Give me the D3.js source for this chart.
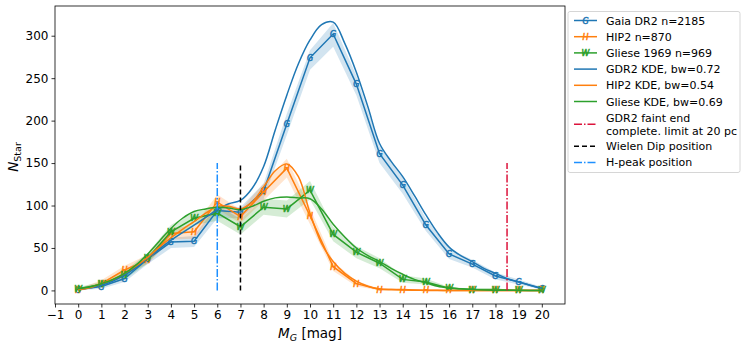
<!DOCTYPE html>
<html><head><meta charset="utf-8">
<script src="https://cdn.jsdelivr.net/npm/d3@7/dist/d3.min.js"></script>
<style>body{margin:0;background:#fff;} svg{display:block;font-family:"DejaVu Sans",sans-serif;}</style>
</head><body><svg id="c" width="747" height="349"></svg>
<script>
// ---- data ----
const mags = d3.range(0, 21);
const gaiaN  = [1,4.5,14,37,57,58,94,92,117,196,274,302,243,161,124,77,43,31,17,10,2];
const gaiaLo = [0,2,10,31,50,51,85,85,108,183,260,287,230,150,114,70,37,27,13,7,1];
const gaiaHi = [3,8,18,42,62,64,101,98,126,208,283,315,253,170,133,85,49,36,21,13,4];
const hipN   = [0,8,24,36,67,69,104,87,116,144,88,28,8,1,1,0,0,0,0,0,0];
const hipLo  = [0,5,19,31,60,61,96,79,106,133,78,23,5,0,0,0,0,0,0,0,0];
const hipHi  = [2,12,29,42,74,76,113,95,126,155,97,34,11,2,1,1,1,1,1,1,1];
const glN    = [2,7,18,38,69,85,91,75,98,96,118,66,45,32,13,10,2.5,1,1,0,0];
const glLo   = [0,4,13,32,61,77,82,66,89,86,107,58,38,26,9,7,1,0,0,0,0];
const glHi   = [4,10,23,44,77,93,100,84,108,106,129,75,52,38,18,14,4,2,2,1,1];
const kdeX   = d3.range(0, 20.01, 0.5);
const gaiaKde = [1,3,6,11,18,27,38,49,59,68,77,86,95,102,106,120,146,189,230,267,295,313,316,291,257,216,173,152,134,112,89,68,51,41,34,26,20,14,10,6,2.5];
const hipKde  = [1,3,8,13,20,29,39,51,62,72,81,91,99,99,96,104,122,141,149,134,91,55,34,20,11,5,2,1,0.5,0.3,0.2,0.1,0,0,0,0,0,0,0,0,0];
const glKde   = [2,4,8,13,20,30,43,58,73,85,93,96,98,97,95,99,105,109,110,109,108,96,78,63,50,41,34,26,19,13,9,5,3,2,1,0.5,0.3,0.2,0.1,0,0];
const xTicks = d3.range(-1, 21);
const yTicks = [0,50,100,150,200,250,300];
const vlines = [
  {x:6, y0:0, y1:150, color:"#1e90ff", dash:"8,2,1.5,2", label:"H-peak position"},
  {x:7, y0:0, y1:150, color:"#000000", dash:"5,3", label:"Wielen Dip position"},
  {x:18.5, y0:0, y1:150, color:"#dc143c", dash:"8,2,1.5,2", label:"GDR2 faint end|complete. limit at 20 pc"}
];

// ---- layout ----
const svg = d3.select("#c");
const L = 55, R = 565, T = 6, B = 304;
const x = d3.scaleLinear().domain([-1, 21]).range([L, R]);
const y = d3.scaleLinear().domain([-16, 335]).range([B, T]);
const C = {b:"#1f77b4", o:"#ff7f0e", g:"#2ca02c"};

const series = [
  {n:gaiaN, lo:gaiaLo, hi:gaiaHi, kde:gaiaKde, c:C.b, m:"G"},
  {n:hipN, lo:hipLo, hi:hipHi, kde:hipKde, c:C.o, m:"H"},
  {n:glN, lo:glLo, hi:glHi, kde:glKde, c:C.g, m:"W"}
];

const g = svg.append("g");
// bands
series.forEach(s => {
  const area = d3.area().x((d,i)=>x(mags[i])).y0((d,i)=>y(s.lo[i])).y1((d,i)=>y(s.hi[i]));
  g.append("path").attr("d", area(mags)).attr("fill", s.c).attr("fill-opacity", 0.2).attr("stroke","none");
});
// data lines + markers
series.forEach(s => {
  const line = d3.line().x((d,i)=>x(mags[i])).y(d=>y(d));
  g.append("path").attr("d", line(s.n)).attr("fill","none").attr("stroke", s.c).attr("stroke-width",1.5);
  g.selectAll(null).data(s.n).enter().append("text")
    .attr("x",(d,i)=>x(mags[i])).attr("y",d=>y(d)+3)
    .attr("text-anchor","middle").attr("font-size",8).attr("font-style","italic")
    .attr("fill", s.c).attr("stroke", s.c).attr("stroke-width",0.5).text(s.m);
});
// KDE curves
series.forEach(s => {
  const line = d3.line().x((d,i)=>x(kdeX[i])).y(d=>y(d)).curve(d3.curveCatmullRom);
  g.append("path").attr("d", line(s.kde)).attr("fill","none").attr("stroke", s.c).attr("stroke-width",1.5);
});
// vertical lines
vlines.forEach(v => {
  g.append("line").attr("x1",x(v.x)).attr("x2",x(v.x)).attr("y1",y(v.y0)).attr("y2",y(v.y1))
   .attr("stroke",v.color).attr("stroke-width",1.5).attr("stroke-dasharray",v.dash);
});

// axes
const xa = svg.append("g").attr("transform",`translate(0,${B})`)
  .call(d3.axisBottom(x).tickValues(xTicks).tickFormat(d=>d<0?"\u2212"+(-d):d).tickSize(3.5).tickPadding(3));
const ya = svg.append("g").attr("transform",`translate(${L},0)`)
  .call(d3.axisLeft(y).tickValues(yTicks).tickSize(3.5).tickPadding(3));
[xa,ya].forEach(a=>{a.select(".domain").remove();
  a.selectAll("text").attr("font-size",12).attr("font-family","DejaVu Sans").attr("fill","#000");
  a.selectAll("line").attr("stroke","#000").attr("stroke-width",0.8);});
svg.append("rect").attr("x",L).attr("y",T).attr("width",R-L).attr("height",B-T)
  .attr("fill","none").attr("stroke","#000").attr("stroke-width",0.8);

// axis labels
const xl = svg.append("text").attr("x",310).attr("y",338).attr("text-anchor","middle").attr("font-size",13.5);
xl.append("tspan").attr("font-style","italic").text("M");
xl.append("tspan").attr("font-style","italic").attr("font-size",9.5).attr("dy",3).text("G");
xl.append("tspan").attr("dy",-3).text(" [mag]");
const yl = svg.append("text").attr("transform","translate(18,157) rotate(-90)").attr("text-anchor","middle").attr("font-size",13.5);
yl.append("tspan").attr("font-style","italic").text("N");
yl.append("tspan").attr("font-size",9.5).attr("dy",3).text("Star");

// legend
const lg = svg.append("g");
lg.append("rect").attr("x",568).attr("y",11.5).attr("width",172).attr("height",161).attr("rx",2)
  .attr("fill","#fff").attr("stroke","#ccc").attr("stroke-width",0.8);
const items = [
  {t:["Gaia DR2 n=2185"], c:C.b, m:"G"},
  {t:["HIP2 n=870"], c:C.o, m:"H"},
  {t:["Gliese 1969 n=969"], c:C.g, m:"W"},
  {t:["GDR2 KDE, bw=0.72"], c:C.b},
  {t:["HIP2 KDE, bw=0.54"], c:C.o},
  {t:["Gliese KDE, bw=0.69"], c:C.g},
  {t:vlines[2].label.split("|"), c:vlines[2].color, dash:vlines[2].dash},
  {t:[vlines[1].label], c:vlines[1].color, dash:vlines[1].dash},
  {t:[vlines[0].label], c:vlines[0].color, dash:vlines[0].dash}
];
let yy = 20.5;
items.forEach(it => {
  const cy = it.t.length>1 ? yy + 6.5 : yy;
  lg.append("line").attr("x1",574).attr("x2",597).attr("y1",cy).attr("y2",cy)
    .attr("stroke",it.c).attr("stroke-width",1.5).attr("stroke-dasharray",it.dash||null);
  if (it.m) lg.append("text").attr("x",585.5).attr("y",cy+3).attr("text-anchor","middle")
    .attr("font-size",8).attr("font-style","italic").attr("fill",it.c).attr("stroke",it.c).attr("stroke-width",0.5).text(it.m);
  it.t.forEach((s,k)=>{
    lg.append("text").attr("x",606).attr("y",yy+4+k*13).attr("font-size",11).attr("fill","#000").text(s);
  });
  yy += it.t.length>1 ? 28.5 : 16.2;
});
</script></body></html>
